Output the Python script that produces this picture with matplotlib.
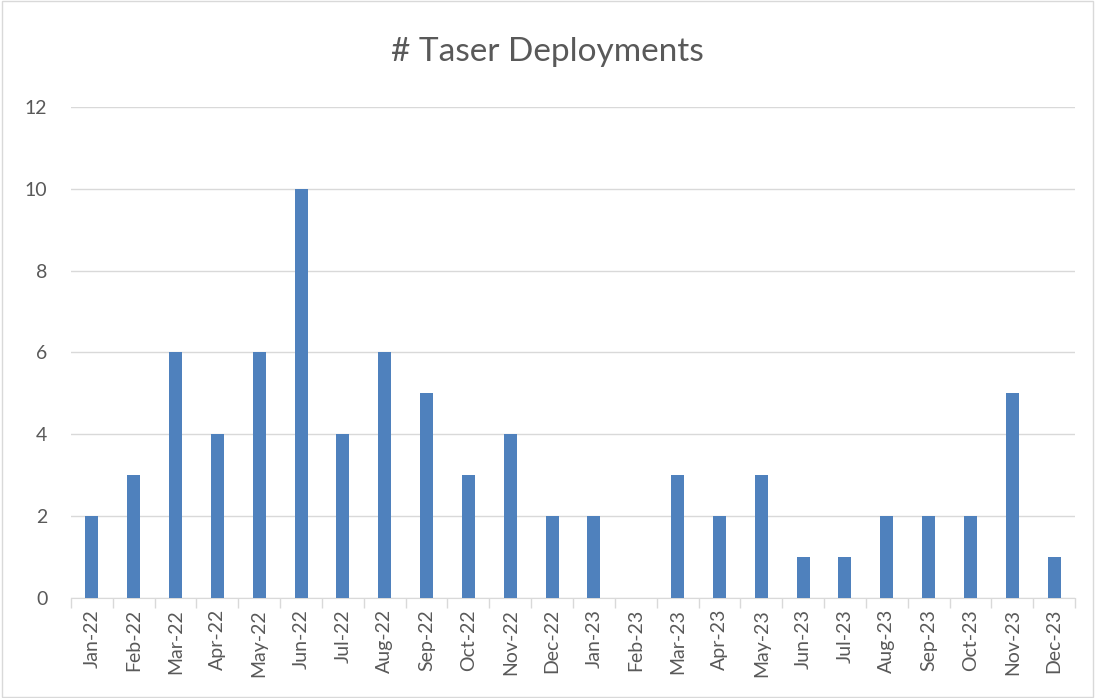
import numpy as np
import matplotlib.pyplot as plt
from matplotlib.patches import Rectangle

months = ["Jan-22", "Feb-22", "Mar-22", "Apr-22", "May-22", "Jun-22", "Jul-22", "Aug-22",
          "Sep-22", "Oct-22", "Nov-22", "Dec-22", "Jan-23", "Feb-23", "Mar-23", "Apr-23",
          "May-23", "Jun-23", "Jul-23", "Aug-23", "Sep-23", "Oct-23", "Nov-23", "Dec-23"]
deployments = [2, 3, 6, 4, 6, 10, 4, 6, 5, 3, 4, 2, 2, 0, 3, 2, 3, 1, 1, 2, 2, 2, 5, 1]
y_ticks = [0, 2, 4, 6, 8, 10, 12]

plt.rcParams['font.family'] = ['Lato', 'DejaVu Sans']
text_col = '#595959'
grid_col = '#d9d9d9'

fig = plt.figure(figsize=(10.95, 6.98), dpi=100)
ax = fig.add_axes([0.0648, 0.1433, 0.917, 0.7034])

x = np.arange(len(months))
ax.bar(x, deployments, width=0.31, color='#4f81bd', zorder=3)

ax.set_xlim(-0.5, len(months) - 0.5)
ax.set_ylim(0, 12)
ax.set_yticks(y_ticks)
ax.set_yticklabels([str(v) for v in y_ticks], fontsize=14, color=text_col)
ax.yaxis.grid(True, color=grid_col, linewidth=1, zorder=0)
ax.tick_params(axis='y', length=0, pad=17)

ax.set_xticks(x)
ax.set_xticklabels(months, rotation=90, fontsize=14, color=text_col)
ax.tick_params(axis='x', which='major', length=0, pad=8)
ax.set_xticks(np.arange(-0.5, len(months)), minor=True)
ax.tick_params(axis='x', which='minor', length=7, color=grid_col, width=1)

for side in ['top', 'right', 'left']:
    ax.spines[side].set_visible(False)
ax.spines['bottom'].set_color(grid_col)

fig.text(0.5, 0.925, "# Taser Deployments", ha='center', va='center',
         fontsize=24, color=text_col)

fig.patches.append(Rectangle((0.002, 0.002), 0.996, 0.996, transform=fig.transFigure,
                             fill=False, edgecolor=grid_col, linewidth=1))

fig.savefig("out.png", dpi=100)
